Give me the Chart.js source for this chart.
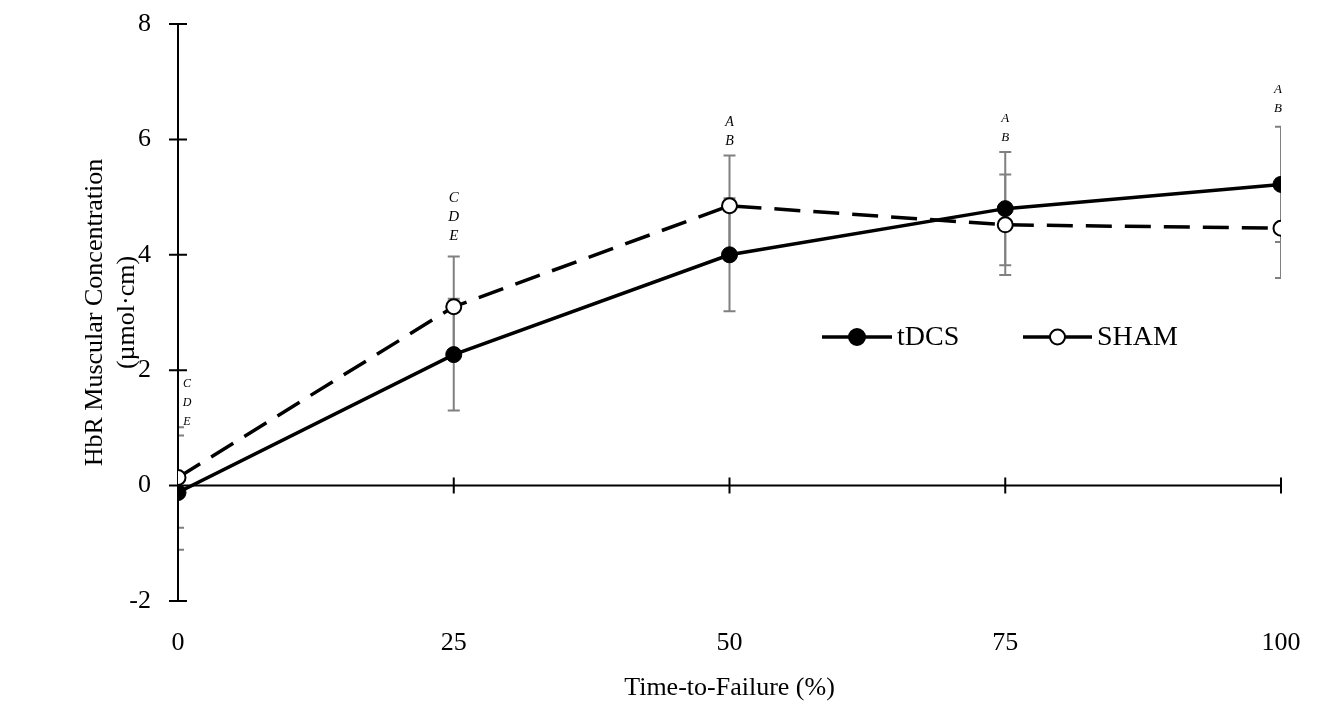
<!DOCTYPE html>
<html>
<head>
<meta charset="utf-8">
<script src="https://cdn.jsdelivr.net/npm/chart.js@4.4.0/dist/chart.umd.min.js"></script>
<style>
  html, body { margin: 0; padding: 0; background: #fff; }
</style>
</head>
<body>
<canvas id="chart" width="1321" height="706"></canvas>
<script>
const timePoints = [0, 25, 50, 75, 100]
const tdcsMean = [-0.12, 2.27, 4.0, 4.8, 5.22]
const tdcsErr = [0.99, 0.97, 0.98, 0.98, 1.0]
const shamMean = [0.14, 3.1, 4.85, 4.52, 4.46]
const shamErr = [0.87, 0.87, 0.87, 0.87, 0.86]
const sigLetters = [['C', 'D', 'E'], ['C', 'D', 'E'], ['A', 'B'], ['A', 'B'], ['A', 'B']]
const xTicks = [0, 25, 50, 75, 100]
const yTicks = [-2, 0, 2, 4, 6, 8]

const serif = "'Liberation Serif', 'Times New Roman', serif"

const toPoints = (means) => timePoints.map((t, i) => ({ x: t, y: means[i] }))

// grey SD bars, clipped to the plot like the caps at both ends
const errorBars = {
  id: 'errorBars',
  beforeDatasetsDraw(chart) {
    const { ctx, chartArea, scales: { x, y } } = chart
    const sets = [[tdcsMean, tdcsErr], [shamMean, shamErr]]
    ctx.save()
    ctx.beginPath()
    ctx.rect(chartArea.left, chartArea.top, chartArea.right - chartArea.left, chartArea.bottom - chartArea.top)
    ctx.clip()
    ctx.strokeStyle = '#808080'
    ctx.lineWidth = 2
    sets.forEach(([means, errs]) => {
      timePoints.forEach((t, i) => {
        const px = x.getPixelForValue(t)
        const hi = y.getPixelForValue(means[i] + errs[i])
        const lo = y.getPixelForValue(means[i] - errs[i])
        ctx.beginPath()
        ctx.moveTo(px, hi); ctx.lineTo(px, lo)
        ctx.moveTo(px - 6, hi); ctx.lineTo(px + 6, hi)
        ctx.moveTo(px - 6, lo); ctx.lineTo(px + 6, lo)
        ctx.stroke()
      })
    })
    ctx.restore()
  }
}

// y axis at x = 0, x axis at y = 0, both with cross ticks
const axisLines = {
  id: 'axisLines',
  beforeDatasetsDraw(chart) {
    const { ctx, scales: { x, y } } = chart
    const x0 = x.getPixelForValue(0)
    const y0 = y.getPixelForValue(0)
    ctx.save()
    ctx.strokeStyle = '#000'
    ctx.lineWidth = 2
    ctx.beginPath()
    ctx.moveTo(x0, y.top); ctx.lineTo(x0, y.bottom)
    ctx.moveTo(x.left, y0); ctx.lineTo(x.right, y0)
    yTicks.forEach(v => {
      const p = y.getPixelForValue(v)
      ctx.moveTo(x0 - 9, p); ctx.lineTo(x0 + 9, p)
    })
    xTicks.forEach(v => {
      const p = x.getPixelForValue(v)
      ctx.moveTo(p, y0 - 8); ctx.lineTo(p, y0 + 8)
    })
    ctx.stroke()
    ctx.restore()
  }
}

// significance letters stacked above each time point
const letterMarks = {
  id: 'letterMarks',
  afterDatasetsDraw(chart, args, opts) {
    const { ctx, scales: { x, y } } = chart
    ctx.save()
    ctx.fillStyle = '#000'
    ctx.textAlign = 'center'
    ctx.textBaseline = 'middle'
    sigLetters.forEach((letters, i) => {
      const top = Math.max(tdcsMean[i] + tdcsErr[i], shamMean[i] + shamErr[i])
      const px = x.getPixelForValue(timePoints[i]) + opts.shift[i]
      const base = y.getPixelForValue(top) - opts.lift[i]
      ctx.font = 'italic ' + opts.size[i] + 'px ' + serif
      letters.forEach((ch, k) => {
        ctx.fillText(ch, px, base - (letters.length - 1 - k) * opts.step)
      })
    })
    ctx.restore()
  }
}

// inline legend inside the plot
const inlineLegend = {
  id: 'inlineLegend',
  afterDatasetsDraw(chart, args, opts) {
    const { ctx } = chart
    ctx.save()
    opts.items.forEach(it => {
      ctx.strokeStyle = '#000'
      ctx.lineWidth = 3.5
      ctx.beginPath()
      ctx.moveTo(it.x0, opts.y); ctx.lineTo(it.x1, opts.y)
      ctx.stroke()
      ctx.beginPath()
      ctx.arc((it.x0 + it.x1) / 2, opts.y, it.r, 0, Math.PI * 2)
      ctx.fillStyle = it.fill
      ctx.fill()
      ctx.lineWidth = 2
      ctx.stroke()
      ctx.fillStyle = '#000'
      ctx.font = opts.size + 'px ' + serif
      ctx.textAlign = 'left'
      ctx.textBaseline = 'middle'
      ctx.fillText(it.text, it.x1 + 5, opts.y + 1)
    })
    ctx.restore()
  }
}

new Chart(document.getElementById('chart'), {
  type: 'line',
  data: {
    datasets: [
      {
        label: 'SHAM',
        data: toPoints(shamMean),
        borderColor: '#000',
        borderWidth: 3.5,
        borderDash: [26, 13],
        pointRadius: 7.5,
        pointBackgroundColor: '#fff',
        pointBorderColor: '#000',
        pointBorderWidth: 2
      },
      {
        label: 'tDCS',
        data: toPoints(tdcsMean),
        borderColor: '#000',
        borderWidth: 3.5,
        pointRadius: 8,
        pointBackgroundColor: '#000',
        pointBorderColor: '#000',
        pointBorderWidth: 1
      }
    ]
  },
  options: {
    responsive: false,
    animation: false,
    events: [],
    layout: { padding: { left: 79, right: 40, top: 24, bottom: 0 } },
    plugins: {
      legend: { display: false },
      tooltip: { enabled: false },
      letterMarks: {
        shift: [9, 0, 0, 0, -3],
        lift: [5, 20, 14, 15, 18],
        size: [12, 15, 14, 13, 13],
        step: 19
      },
      inlineLegend: {
        y: 337,
        size: 28,
        items: [
          { text: 'tDCS', x0: 822, x1: 892, r: 8, fill: '#000' },
          { text: 'SHAM', x0: 1023, x1: 1092, r: 7.5, fill: '#fff' }
        ]
      }
    },
    scales: {
      x: {
        type: 'linear',
        min: 0,
        max: 100,
        afterBuildTicks: s => { s.ticks = xTicks.map(v => ({ value: v })) },
        afterFit: s => {
          s.height = 105
          s.paddingLeft = 0
          s.paddingRight = 0
        },
        grid: { display: false, drawTicks: false },
        border: { display: false },
        ticks: { padding: 27, color: '#000', font: { family: serif, size: 26 }, maxRotation: 0 },
        title: {
          display: true,
          text: 'Time-to-Failure (%)',
          color: '#000',
          font: { family: serif, size: 26 },
          padding: { top: 0, bottom: 2 }
        }
      },
      y: {
        min: -2,
        max: 8,
        afterBuildTicks: s => { s.ticks = yTicks.map(v => ({ value: v })) },
        afterFit: s => {
          s.width = 99
          s.paddingTop = 0
          s.paddingBottom = 0
        },
        grid: { display: false, drawTicks: false },
        border: { display: false },
        ticks: { padding: 27, color: '#000', font: { family: serif, size: 26 } },
        title: {
          display: true,
          text: ['HbR Muscular Concentration', '(µmol·cm)'],
          color: '#000',
          font: { family: serif, size: 26, lineHeight: 1.23 },
          padding: { top: 0, bottom: 0 }
        }
      }
    }
  },
  plugins: [errorBars, axisLines, letterMarks, inlineLegend]
})
</script>
</body>
</html>
